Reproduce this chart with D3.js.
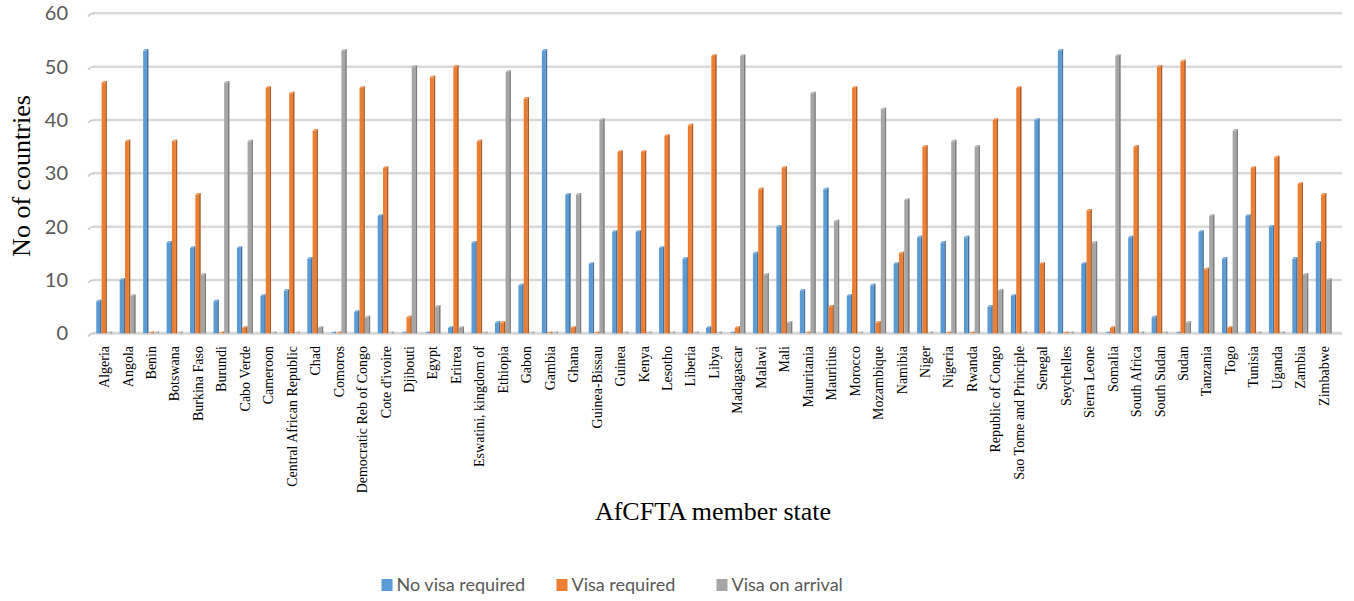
<!DOCTYPE html>
<html>
<head>
	<meta charset="utf-8">
	<title>AfCFTA visa openness</title>
	<script type="text/javascript" src="https://cdn.jsdelivr.net/npm/d3@7"></script>
	<style>
		body {
			margin: 0;
			background: #ffffff;
		}
	</style>
</head>

<body>

	<div id="chart"></div>

	<script>

	// data

	const countries = [
		"Algeria", "Angola", "Benin", "Botswana", "Burkina Faso", "Burundi", "Cabo Verde",
		"Cameroon", "Central African Republic", "Chad", "Comoros", "Democratic Reb of Congo",
		"Cote d'ivoire", "Djibouti", "Egypt", "Eritrea", "Eswatini, kingdom of", "Ethiopia",
		"Gabon", "Gambia", "Ghana", "Guinea-Bissau", "Guinea", "Kenya", "Lesotho", "Liberia",
		"Libya", "Madagascar", "Malawi", "Mali", "Mauritania", "Mauritius", "Morocco",
		"Mozambique", "Namibia", "Niger", "Nigeria", "Rwanda", "Republic of Congo",
		"Sao Tome and Principle", "Senegal", "Seychelles", "Sierra Leone", "Somalia",
		"South Africa", "South Sudan", "Sudan", "Tanzania", "Togo", "Tunisia", "Uganda",
		"Zambia", "Zimbabwe"
	];

	const noVisa = [
		6, 10, 53, 17, 16, 6, 16, 7, 8, 14, 0, 4, 22, 0, 0, 1, 17, 2,
		9, 53, 26, 13, 19, 19, 16, 14, 1, 0, 15, 20, 8, 27, 7,
		9, 13, 18, 17, 18, 5, 7, 40, 53, 13, 0,
		18, 3, 0, 19, 14, 22, 20, 14, 17
	];

	const visaRequired = [
		47, 36, 0, 36, 26, 0, 1, 46, 45, 38, 0, 46, 31, 3, 48, 50, 36, 2,
		44, 0, 1, 0, 34, 34, 37, 39, 52, 1, 27, 31, 0, 5, 46,
		2, 15, 35, 0, 0, 40, 46, 13, 0, 23, 1,
		35, 50, 51, 12, 1, 31, 33, 28, 26
	];

	const visaOnArrival = [
		0, 7, 0, 0, 11, 47, 36, 0, 0, 1, 53, 3, 0, 50, 5, 1, 0, 49,
		0, 0, 26, 40, 0, 0, 0, 0, 0, 52, 11, 2, 45, 21, 0,
		42, 25, 0, 36, 35, 8, 0, 0, 0, 17, 52,
		0, 0, 2, 22, 38, 0, 0, 11, 10
	];

	const seriesNames  = ["No visa required", "Visa required", "Visa on arrival"];
	const seriesValues = [noVisa, visaRequired, visaOnArrival];
	const yTicks       = [0, 10, 20, 30, 40, 50, 60];

	// customization

	const width       = 1354;
	const height      = 601;
	const colors      = ["#5b9bd5", "#ed7d31", "#a5a5a5"];
	const sideColors  = ["#41719c", "#ae5a21", "#7c7c7c"];
	const topColors   = ["#7fb1e0", "#f29a5e", "#bdbdbd"];
	const gridColor   = "#d9d9d9";
	const tickColor   = "#595959";
	const sansFont    = "Lato, 'Liberation Sans', sans-serif";
	const serifFont   = "'Liberation Serif', 'Times New Roman', serif";

	const rows = countries.map((c, i) => ({
		country: c,
		values: seriesNames.map((s, j) => ({ series: s, j: j, value: seriesValues[j][i] }))
	}));

	const svg = d3.select("#chart")
		.append("svg")
		.attr("width", width)
		.attr("height", height)
		.attr("viewBox", [0, 0, width, height]);

	const x0 = d3.scaleBand()
		.domain(countries)
		.range([92.5, 1335.5])
		.paddingInner(0.32)
		.paddingOuter(0.16);

	const x1 = d3.scaleBand()
		.domain(seriesNames)
		.range([0, x0.bandwidth()]);

	const y = d3.scaleLinear()
		.domain([0, 60])
		.range([333.3, 13.3]);

	// gridlines (with the little 3D curl on the left end)
	const grid = svg.append("g");
	grid.selectAll("line.grid")
		.data(yTicks)
		.join("line")
		.attr("class", "grid")
		.attr("x1", 93)
		.attr("x2", 1342)
		.attr("y1", d => y(d))
		.attr("y2", d => y(d))
		.attr("stroke", gridColor)
		.attr("stroke-width", d => d === 0 ? 3 : 2.5);
	grid.selectAll("path.curl")
		.data(yTicks)
		.join("path")
		.attr("class", "curl")
		.attr("d", d => `M88,${y(d) + 3} L91,${y(d) + 0.5} L94,${y(d)}`)
		.attr("fill", "none")
		.attr("stroke", "#c8c8c8")
		.attr("stroke-width", 1.5);

	// y tick labels
	svg.append("g")
		.selectAll("text")
		.data(yTicks)
		.join("text")
		.attr("x", 68)
		.attr("y", d => y(d))
		.attr("dy", "0.35em")
		.attr("text-anchor", "end")
		.attr("fill", tickColor)
		.style("font-family", sansFont)
		.style("font-size", "20px")
		.text(d => d);

	// bars, drawn as faux 3D columns
	const side = 1.6;
	const topH = 1.6;
	const groups = svg.append("g")
		.selectAll("g")
		.data(rows)
		.join("g")
		.attr("transform", d => `translate(${x0(d.country)},0)`);

	const bars = groups.selectAll("g")
		.data(d => d.values)
		.join("g");

	bars.append("rect")
		.attr("x", d => x1(d.series))
		.attr("y", d => y(d.value))
		.attr("width", x1.bandwidth() - side)
		.attr("height", d => y(0) - y(d.value))
		.attr("fill", d => colors[d.j]);

	bars.append("rect")
		.attr("x", d => x1(d.series) + x1.bandwidth() - side)
		.attr("y", d => y(d.value) - topH)
		.attr("width", side)
		.attr("height", d => y(0) - y(d.value) + topH)
		.attr("fill", d => sideColors[d.j]);

	bars.append("path")
		.attr("d", d => {
			const bx = x1(d.series);
			const by = y(d.value);
			const bw = x1.bandwidth() - side;
			return `M${bx},${by} L${bx + side},${by - topH} L${bx + bw + side},${by - topH} L${bx + bw},${by} Z`;
		})
		.attr("fill", d => topColors[d.j]);

	// x category labels
	svg.append("g")
		.selectAll("text")
		.data(countries)
		.join("text")
		.attr("transform", d => `translate(${x0(d) + x0.bandwidth() / 2},346) rotate(-90)`)
		.attr("dy", "0.35em")
		.attr("text-anchor", "end")
		.attr("fill", "#000")
		.style("font-family", serifFont)
		.style("font-size", "14px")
		.text(d => d);

	// axis titles
	svg.append("text")
		.attr("transform", "translate(30,176) rotate(-90)")
		.attr("text-anchor", "middle")
		.attr("fill", "#000")
		.style("font-family", serifFont)
		.style("font-size", "26px")
		.text("No of countries");

	svg.append("text")
		.attr("x", 713)
		.attr("y", 520)
		.attr("text-anchor", "middle")
		.attr("fill", "#000")
		.style("font-family", serifFont)
		.style("font-size", "26px")
		.text("AfCFTA member state");

	// legend
	const legendX = [381.5, 556.5, 716.5];
	const legend = svg.append("g")
		.selectAll("g")
		.data(seriesNames)
		.join("g")
		.attr("transform", (d, i) => `translate(${legendX[i]},579)`);

	legend.append("rect")
		.attr("width", 11)
		.attr("height", 12)
		.attr("fill", (d, i) => colors[i]);

	legend.append("text")
		.attr("x", 15)
		.attr("y", 6)
		.attr("dy", "0.35em")
		.attr("fill", tickColor)
		.style("font-family", sansFont)
		.style("font-size", "18px")
		.text(d => d);

	</script>

</body>

</html>
